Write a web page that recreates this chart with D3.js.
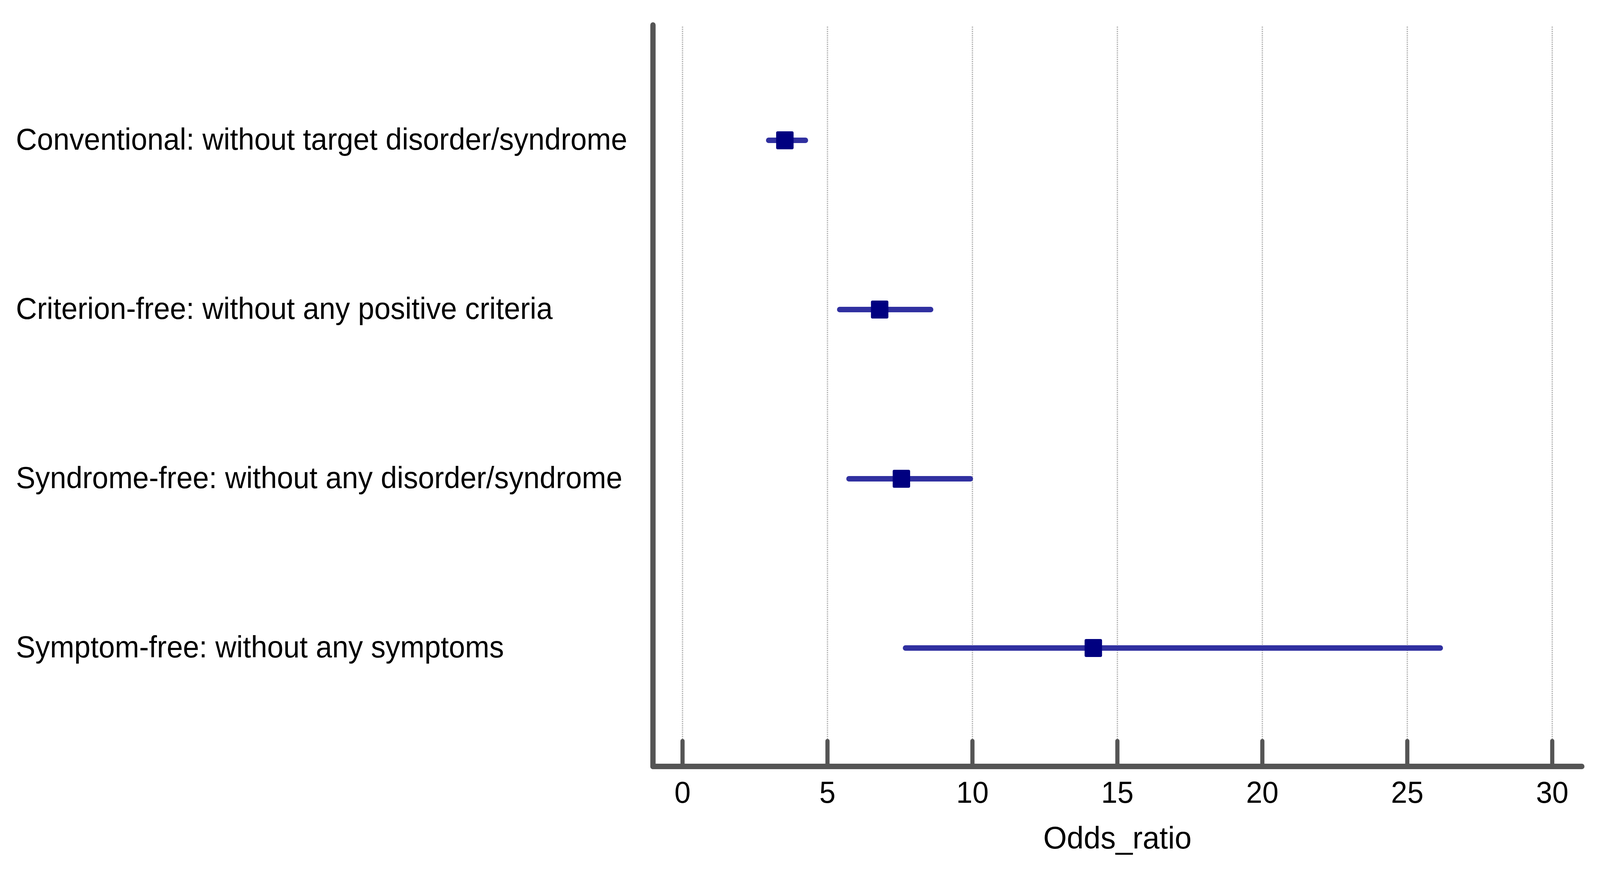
<!DOCTYPE html>
<html>
<head>
<meta charset="utf-8">
<script src="https://cdn.jsdelivr.net/npm/d3@7"></script>
<style>
  html, body { margin: 0; padding: 0; background: #ffffff; width: 100%; height: 100%; overflow: hidden; }
  svg { display: block; width: 100vw; height: 100vh; }
  text { font-family: "Liberation Sans", Arial, Helvetica, sans-serif; fill: #000; }
</style>
</head>
<body>
<script>
const categories = [
  "Conventional: without target disorder/syndrome",
  "Criterion-free: without any positive criteria",
  "Syndrome-free: without any disorder/syndrome",
  "Symptom-free: without any symptoms"
];
const oddsRatio = [3.53, 6.80, 7.55, 14.17];
const lowerCI   = [2.97, 5.42, 5.74, 7.69];
const upperCI   = [4.24, 8.56, 9.93, 26.14];
const xTicks    = [0, 5, 10, 15, 20, 25, 30];
const xTitle    = "Odds_ratio";

const W = 4222, H = 2226;
const svg = d3.select("body").append("svg")
  .attr("viewBox", `0 0 ${W} ${H}`)
  .attr("preserveAspectRatio", "none");

svg.append("rect").attr("width", W).attr("height", H).attr("fill", "#ffffff");

const axisColor = "#555555";
const plotLeft = 1723, plotRight = 4174, plotTop = 64, plotBottom = 1961;

const x = d3.scaleLinear().domain([-1.02, 31.02]).range([plotLeft, plotRight]);
const y = d3.scalePoint().domain(categories).range([359, 1658]);

// gridlines
svg.append("g").selectAll("line").data(xTicks).join("line")
  .attr("x1", d => x(d)).attr("x2", d => x(d))
  .attr("y1", 68).attr("y2", plotBottom)
  .attr("stroke", "#b3b3b3").attr("stroke-width", 3.5)
  .attr("stroke-dasharray", "3,2.5");

// x ticks (inward)
svg.append("g").selectAll("line").data(xTicks).join("line")
  .attr("x1", d => x(d)).attr("x2", d => x(d))
  .attr("y1", 1896).attr("y2", plotBottom)
  .attr("stroke", axisColor).attr("stroke-width", 11)
  .attr("stroke-linecap", "round");

// axis lines
svg.append("line")
  .attr("x1", plotLeft).attr("x2", plotLeft)
  .attr("y1", plotTop).attr("y2", plotBottom)
  .attr("stroke", axisColor).attr("stroke-width", 14)
  .attr("stroke-linecap", "round");
svg.append("line")
  .attr("x1", plotLeft).attr("x2", plotRight)
  .attr("y1", plotBottom).attr("y2", plotBottom)
  .attr("stroke", axisColor).attr("stroke-width", 14)
  .attr("stroke-linecap", "round");

// tick labels
svg.append("g").selectAll("text").data(xTicks).join("text")
  .attr("x", d => x(d)).attr("y", 2054)
  .attr("text-anchor", "middle")
  .attr("font-size", 77)
  .text(d => d3.format("d")(d));

// axis title
svg.append("text")
  .attr("x", (plotLeft + plotRight) / 2).attr("y", 2171)
  .attr("text-anchor", "middle")
  .attr("font-size", 80)
  .text(xTitle);

// category labels
svg.append("g").selectAll("text").data(categories).join("text")
  .attr("x", 42).attr("y", d => y(d) + 24)
  .attr("text-anchor", "start")
  .attr("font-size", 77)
  .text(d => d);

// error bars
const rows = categories.map((c, i) => ({ c, or: oddsRatio[i], lo: lowerCI[i], hi: upperCI[i] }));
svg.append("g").selectAll("line").data(rows).join("line")
  .attr("x1", d => x(d.lo)).attr("x2", d => x(d.hi))
  .attr("y1", d => y(d.c)).attr("y2", d => y(d.c))
  .attr("stroke", "#3030a0").attr("stroke-width", 14)
  .attr("stroke-linecap", "round");

// point markers
const sq = 46;
svg.append("g").selectAll("rect").data(rows).join("rect")
  .attr("x", d => x(d.or) - sq / 2).attr("y", d => y(d.c) - sq / 2)
  .attr("width", sq).attr("height", sq)
  .attr("rx", 4).attr("ry", 4)
  .attr("fill", "#000080");
</script>
</body>
</html>
